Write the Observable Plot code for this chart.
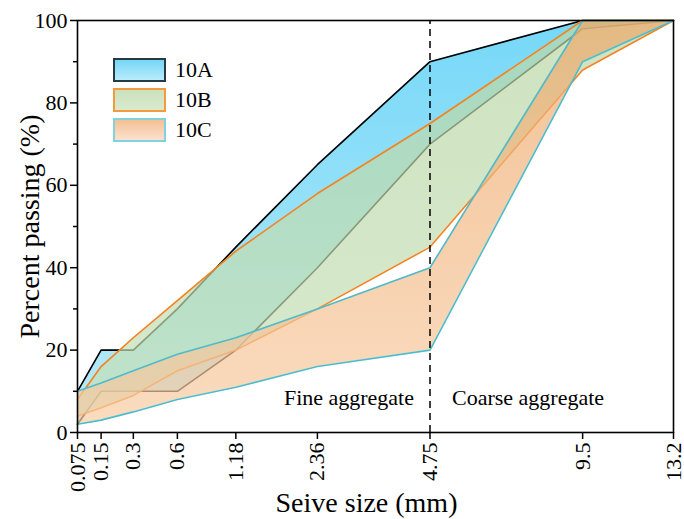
<!DOCTYPE html>
<html>
<head>
<meta charset="utf-8">
<script src="https://cdn.jsdelivr.net/npm/d3@7"></script>
<script src="https://cdn.jsdelivr.net/npm/@observablehq/plot@0.6"></script>
<style>
  html, body { margin: 0; padding: 0; background: #fff; }
  #wrap { position: relative; width: 684px; height: 519px; font-family: "Liberation Serif", "Times New Roman", serif; }
  .leg { position: absolute; left: 113px; display: flex; align-items: center; }
  .sw { width: 49px; height: 20px; box-sizing: content-box; }
  .lab { margin-left: 9px; font-size: 22px; color: #000; line-height: 1; font-family: "Liberation Serif", serif; }
</style>
</head>
<body>
<div id="wrap"></div>
<script>
// Sieve sizes (mm) and tick labels
const sizes = [0.075, 0.15, 0.3, 0.6, 1.18, 2.36, 4.75, 9.5, 13.2];
const sizeLabels = ["0.075", "0.15", "0.3", "0.6", "1.18", "2.36", "4.75", "9.5", "13.2"];
// Gradation envelopes (percent passing)
const upper10A = [10, 20, 20, 30, 45, 65, 90, 100, 100];
const lower10A = [2, 10, 10, 10, 20, 40, 70, 98, 100];
const upper10B = [8, 16, 23, 32, 44, 58, 75, 100, 100];
const lower10B = [4, 6, 9, 15, 20, 30, 45, 88, 100];
const upper10C = [10, 12, 15, 19, 23, 30, 40, 100, 100];
const lower10C = [2, 3, 5, 8, 11, 16, 20, 90, 100];
const seriesNames = ["10A", "10B", "10C"];
const boundary = [4.75];
const yMajor = [0, 20, 40, 60, 80, 100];
const yMinor = [10, 30, 50, 70, 90];

const table = (hi, lo) => sizes.map((x, i) => ({x, hi: hi[i], lo: lo[i]}));
const A = table(upper10A, lower10A);
const B = table(upper10B, lower10B);
const C = table(upper10C, lower10C);

const W = 684, H = 519, mT = 20, mB = 87, mL = 77, mR = 11;
const font = "'Liberation Serif', 'Times New Roman', serif";

const chart = Plot.plot({
  width: W, height: H,
  marginTop: mT, marginBottom: mB, marginLeft: mL, marginRight: mR,
  style: {fontFamily: font, fontSize: "22px", color: "#000", background: "#fff", overflow: "visible"},
  x: {type: "pow", exponent: 0.45, domain: [sizes[0], sizes[sizes.length - 1]]},
  y: {domain: [0, 100]},
  marks: [
    Plot.areaY(A, {x: "x", y1: "lo", y2: "hi", fill: "url(#gA)"}),
    Plot.lineY(A, {x: "x", y: "hi", stroke: "#000", strokeWidth: 1.6}),
    Plot.lineY(A, {x: "x", y: "lo", stroke: "#000", strokeWidth: 1.6}),
    Plot.areaY(B, {x: "x", y1: "lo", y2: "hi", fill: "url(#gB)", fillOpacity: 0.7}),
    Plot.lineY(B, {x: "x", y: "hi", stroke: "#f5821f", strokeWidth: 1.6}),
    Plot.lineY(B, {x: "x", y: "lo", stroke: "#f5821f", strokeWidth: 1.6}),
    Plot.areaY(C, {x: "x", y1: "lo", y2: "hi", fill: "url(#gC)", fillOpacity: 0.7}),
    Plot.lineY(C, {x: "x", y: "hi", stroke: "#4cbccc", strokeWidth: 1.6}),
    Plot.lineY(C, {x: "x", y: "lo", stroke: "#4cbccc", strokeWidth: 1.6}),
    Plot.ruleX(boundary, {y1: 0, y2: 100, stroke: "#000", strokeWidth: 1.5, strokeDasharray: "7,5"}),
    Plot.text(["Fine aggregate"], {x: boundary[0], y: 8.5, textAnchor: "end", dx: -16, fontSize: 22, lineAnchor: "middle"}),
    Plot.text(["Coarse aggregate"], {x: boundary[0], y: 8.5, textAnchor: "start", dx: 22, fontSize: 22, lineAnchor: "middle"}),
    Plot.frame({stroke: "#000", strokeWidth: 1.6}),
    Plot.axisY(yMajor, {tickSize: 7, tickPadding: 3, fontSize: 22, label: null, strokeWidth: 1.5}),
    Plot.axisY(yMinor, {tickSize: 4, tickFormat: () => "", label: null, strokeWidth: 1.5}),
    Plot.axisX(sizes, {tickSize: 7, tickPadding: 3, tickRotate: -90, fontSize: 22, label: null, strokeWidth: 1.5,
      tickFormat: (d) => sizeLabels[sizes.indexOf(d)]}),
    Plot.text(["Percent passing (%)"], {frameAnchor: "left", rotate: -90, dx: -47, textAnchor: "middle", lineAnchor: "middle", fontSize: 28}),
    Plot.text(["Seive size (mm)"], {frameAnchor: "bottom", dy: 71, dx: -9, textAnchor: "middle", lineAnchor: "middle", fontSize: 28})
  ]
});

const svg = chart.tagName.toLowerCase() === "svg" ? chart : chart.querySelector("svg");
const NS = "http://www.w3.org/2000/svg";
const defs = document.createElementNS(NS, "defs");
function grad(id, top, bottom) {
  const g = document.createElementNS(NS, "linearGradient");
  g.setAttribute("id", id);
  g.setAttribute("gradientUnits", "userSpaceOnUse");
  g.setAttribute("x1", 0); g.setAttribute("x2", 0);
  g.setAttribute("y1", mT); g.setAttribute("y2", H - mB);
  [[0, top], [1, bottom]].forEach(([o, c]) => {
    const s = document.createElementNS(NS, "stop");
    s.setAttribute("offset", o);
    s.setAttribute("stop-color", c);
    g.appendChild(s);
  });
  defs.appendChild(g);
}
grad("gA", "rgb(118,216,248)", "rgb(186,235,249)");
grad("gB", "rgb(186,215,166)", "rgb(198,224,184)");
grad("gC", "rgb(237,168,106)", "rgb(248,205,165)");
svg.insertBefore(defs, svg.firstChild);

const wrap = document.getElementById("wrap");
wrap.appendChild(chart);

// Legend
const legendStyles = [
  {bg: "linear-gradient(#76d6f6, #b8ecfb)", border: "#263a42"},
  {bg: "linear-gradient(#cbe1bd, #d9eacd)", border: "#f39a3c"},
  {bg: "linear-gradient(#f4bf93, #fbe2cf)", border: "#80d2de"}
];
seriesNames.forEach((name, i) => {
  const row = document.createElement("div");
  row.className = "leg";
  row.style.top = (58 + i * 30) + "px";
  const sw = document.createElement("div");
  sw.className = "sw";
  sw.style.background = legendStyles[i].bg;
  sw.style.border = "2px solid " + legendStyles[i].border;
  const lab = document.createElement("span");
  lab.className = "lab";
  lab.textContent = name;
  row.appendChild(sw);
  row.appendChild(lab);
  wrap.appendChild(row);
});
</script>
</body>
</html>
